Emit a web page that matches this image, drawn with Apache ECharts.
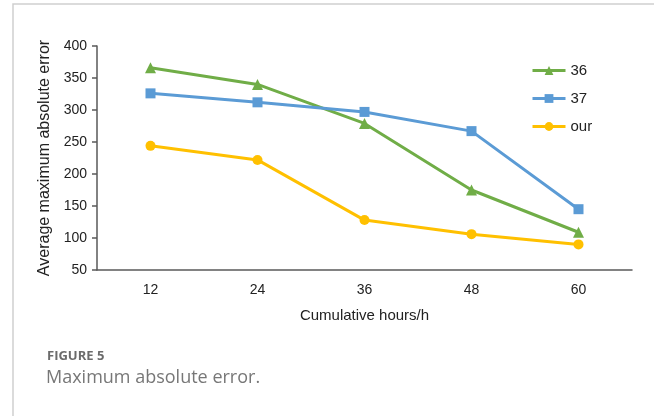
<!DOCTYPE html>
<html>
<head>
<meta charset="utf-8">
<script src="https://cdn.jsdelivr.net/npm/echarts@6/dist/echarts.min.js"></script>
<style>
  html, body { margin: 0; padding: 0; background: #fff; }
  #chart { width: 654px; height: 416px; }
</style>
</head>
<body>
<div id="chart"></div>
<script>
const hours = ["12", "24", "36", "48", "60"];
const seriesNames = ["36", "37", "our"];
const data36 = [366, 340, 279, 175, 109];
const data37 = [326, 312, 297, 267, 145];
const dataOur = [244, 222, 128, 106, 90];
const yTicks = { min: 50, max: 400, interval: 50 };

const chart = echarts.init(document.getElementById("chart"));

const lineSeries = (name, data, color, symbol, size) => ({
  name: name,
  type: "line",
  data: data,
  symbol: symbol,
  symbolSize: size,
  showSymbol: true,
  itemStyle: { color: color },
  lineStyle: { color: color, width: 3 },
  animation: false,
});

chart.setOption({
  backgroundColor: "#fff",
  textStyle: { fontFamily: "Liberation Sans" },
  grid: { left: 97, right: 22, top: 46, bottom: 146 },
  graphic: [
    // figure frame
    {
      type: "rect",
      shape: { x: 13, y: 4, width: 700, height: 500 },
      style: { fill: "none", stroke: "#cfcfcf", lineWidth: 1.5 },
    },
    {
      type: "text",
      left: 47,
      top: 350,
      style: { text: "FIGURE 5", font: "bold 13px 'Open Sans'", fill: "#6b6b6b" },
    },
    {
      type: "text",
      left: 46,
      top: 369,
      style: { text: "Maximum absolute error.", font: "18px 'Open Sans'", fill: "#777" },
    },
  ],
  legend: {
    orient: "vertical",
    left: 526,
    top: 58,
    itemWidth: 33,
    itemHeight: 11,
    itemGap: 13,
    lineStyle: { width: 3 },
    textStyle: { fontSize: 15, color: "#222" },
    data: seriesNames,
  },
  xAxis: {
    type: "category",
    data: hours,
    boundaryGap: true,
    name: "Cumulative hours/h",
    nameLocation: "middle",
    nameGap: 38,
    nameTextStyle: { fontSize: 15, color: "#222" },
    axisLine: { lineStyle: { color: "#595959", width: 1.5 } },
    axisTick: { show: false },
    axisLabel: { fontSize: 14, color: "#222", margin: 13 },
  },
  yAxis: {
    type: "value",
    min: yTicks.min,
    max: yTicks.max,
    interval: yTicks.interval,
    name: "Average maximum absolute error",
    nameLocation: "middle",
    nameGap: 43,
    nameTextStyle: { fontSize: 16, color: "#222" },
    axisLine: { show: true, lineStyle: { color: "#595959", width: 1.5 } },
    axisTick: { show: true, length: 5, lineStyle: { color: "#595959", width: 1.5 } },
    axisLabel: { fontSize: 14, color: "#222", margin: 10 },
    splitLine: { show: false },
  },
  series: [
    lineSeries(seriesNames[0], data36, "#70ad47", "triangle", 11),
    lineSeries(seriesNames[1], data37, "#5b9bd5", "rect", 10),
    lineSeries(seriesNames[2], dataOur, "#ffc000", "circle", 10),
  ],
});
</script>
</body>
</html>
